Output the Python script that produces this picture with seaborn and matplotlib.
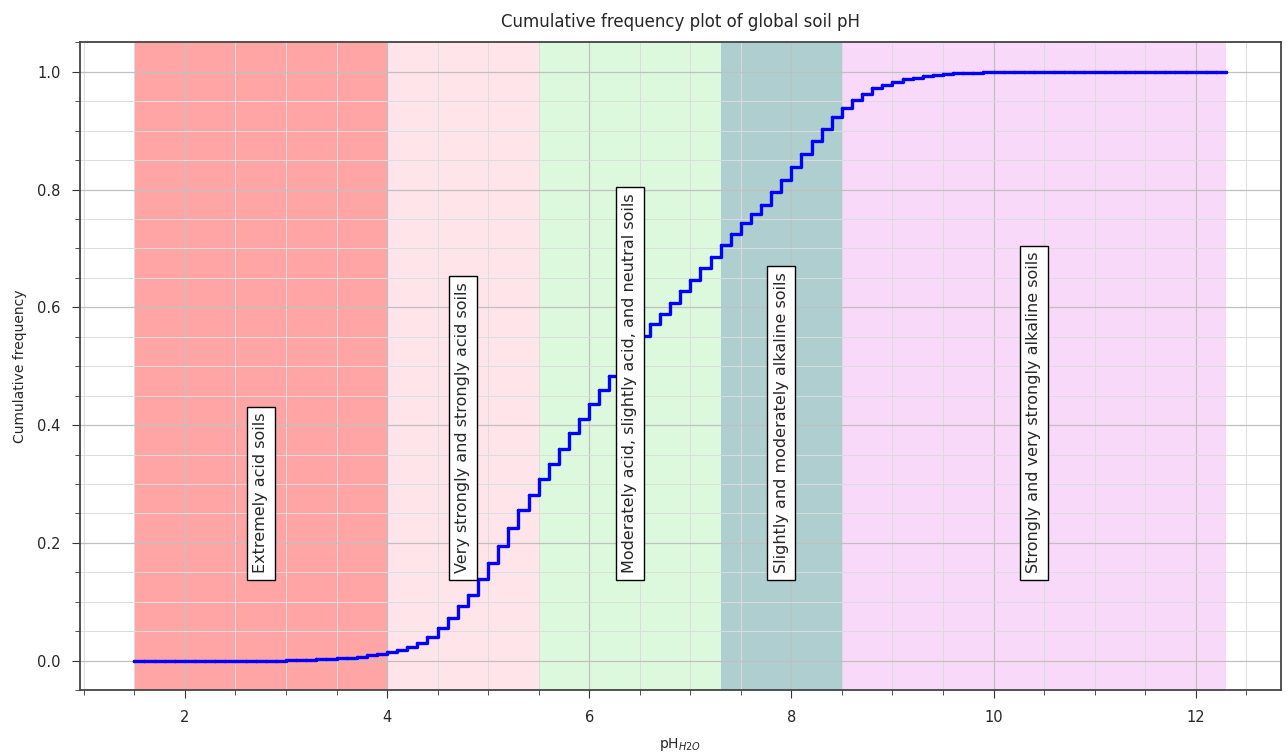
import numpy as np
import pandas as pd
import seaborn as sns
import matplotlib.pyplot as plt

# pH classes (start, end, colour, label)
class_start = [1.5, 4.0, 5.5, 7.3, 8.5]
class_end = [4.0, 5.5, 7.3, 8.5, 12.3]
class_colors = ['#ff5c5c', '#ffc0cb', '#90ee90', '#5f9ea0', '#ee82ee']
class_alpha = [0.55, 0.4, 0.3, 0.5, 0.3]
class_labels = ['Extremely acid soils',
                'Very strongly and strongly acid soils',
                'Moderately acid, slightly acid, and neutral soils',
                'Slightly and moderately alkaline soils',
                'Strongly and very strongly alkaline soils']

# cumulative frequency, pH 1.5 .. 12.3 every 0.1
cum_freq = [
    0.0, 0.0, 0.0, 0.0, 0.0, 0.0, 0.0, 0.0, 0.0, 0.0,          # 1.5-2.4
    0.0, 0.0, 0.0, 0.0, 0.0, 0.001, 0.001, 0.001, 0.002, 0.003,  # 2.5-3.4
    0.004, 0.005, 0.007, 0.009, 0.011, 0.014, 0.018, 0.023, 0.030, 0.040,  # 3.5-4.4
    0.055, 0.072, 0.092, 0.112, 0.138, 0.165, 0.195, 0.225, 0.255, 0.281,  # 4.5-5.4
    0.308, 0.334, 0.36, 0.386, 0.411, 0.436, 0.46, 0.484, 0.507, 0.53,     # 5.5-6.4
    0.551, 0.571, 0.589, 0.607, 0.627, 0.647, 0.667, 0.686, 0.705, 0.725,  # 6.5-7.4
    0.743, 0.758, 0.774, 0.795, 0.816, 0.839, 0.86, 0.882, 0.903, 0.923,   # 7.5-8.4
    0.938, 0.952, 0.963, 0.972, 0.978, 0.983, 0.987, 0.990, 0.992, 0.994,  # 8.5-9.4
    0.996, 0.997, 0.998, 0.998, 0.999, 0.999, 1.0, 1.0, 1.0, 1.0,          # 9.5-10.4
    1.0, 1.0, 1.0, 1.0, 1.0, 1.0, 1.0, 1.0, 1.0, 1.0,                      # 10.5-11.4
    1.0, 1.0, 1.0, 1.0, 1.0, 1.0, 1.0, 1.0, 1.0,                           # 11.5-12.3
]
ph = np.round(np.arange(len(cum_freq)) * 0.1 + 1.5, 1)
df = pd.DataFrame({'ph': ph, 'freq': cum_freq})

sns.set_style('ticks')
plt.rcParams['font.family'] = ['DejaVu Sans']

fig = plt.figure(figsize=(12.87, 7.55), dpi=100)
ax = fig.add_axes([0.062, 0.086, 0.933, 0.858])

for s, e, c, a in zip(class_start, class_end, class_colors, class_alpha):
    ax.axvspan(s, e, color=c, alpha=a, lw=0, zorder=0.2)

sns.lineplot(data=df, x='ph', y='freq', ax=ax, color='blue', lw=2.4,
             drawstyle='steps-post', marker='o', markersize=2.5,
             markeredgewidth=0, zorder=3)

for s, e, lab in zip(class_start, class_end, class_labels):
    ax.text((s + e) / 2, 0.148, lab, rotation=90, ha='center', va='bottom',
            fontsize=11.5, zorder=4,
            bbox=dict(facecolor='white', edgecolor='black', boxstyle='square,pad=0.4'))

ax.margins(x=0.05, y=0.05)
ax.minorticks_on()
ax.set_axisbelow(True)
ax.grid(which='major', color='#c0c0c0', lw=0.9)
ax.grid(which='minor', color='#dcdcdc', lw=0.7)
ax.tick_params(which='major', labelsize=10.5, length=6, pad=8, color='#333333')
ax.tick_params(which='minor', length=3.5, color='#333333')
for sp in ax.spines.values():
    sp.set_color('#444444')
    sp.set_linewidth(1.3)

ax.set_title('Cumulative frequency plot of global soil pH', fontsize=12, pad=11)
ax.set_xlabel(r'pH$_{H2O}$', fontsize=10, labelpad=8)
ax.set_ylabel('Cumulative frequency', fontsize=10, labelpad=7)

fig.savefig('out.png', dpi=100)
